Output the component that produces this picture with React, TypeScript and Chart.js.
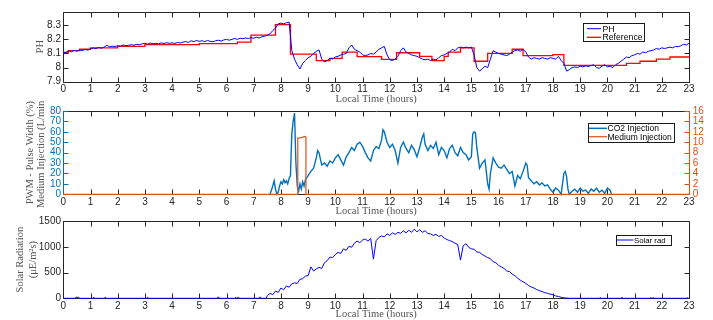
import React, { useEffect, useRef } from "react";
import { Chart, registerables } from "chart.js";

Chart.register(...registerables);

// ---------------- data ----------------
const HOUR_TICKS = [0, 1, 2, 3, 4, 5, 6, 7, 8, 9, 10, 11, 12, 13, 14, 15, 16, 17, 18, 19, 20, 21, 22, 23];

// pH, sampled every 0.1 h from 0 h
const PH_START = 0;
const PH_STEP = 0.1;
const phValues = [
  8.103, 8.108, 8.118, 8.112, 8.122, 8.117, 8.125, 8.12, 8.128, 8.124,
  8.132, 8.138, 8.135, 8.142, 8.138, 8.145, 8.158, 8.148, 8.152, 8.149,
  8.155, 8.152, 8.16, 8.155, 8.158, 8.162, 8.158, 8.165, 8.162, 8.168,
  8.172, 8.166, 8.174, 8.169, 8.172, 8.168, 8.175, 8.171, 8.176, 8.172,
  8.175, 8.171, 8.178, 8.174, 8.18, 8.185, 8.178, 8.19, 8.184, 8.192,
  8.186, 8.19, 8.184, 8.192, 8.186, 8.183, 8.19, 8.194, 8.188, 8.196,
  8.2, 8.194, 8.2, 8.206, 8.2, 8.208, 8.204, 8.21, 8.206, 8.212,
  8.208, 8.215, 8.21, 8.218, 8.222, 8.23, 8.24, 8.262, 8.28, 8.31,
  8.315, 8.31, 8.318, 8.322, 8.12, 8.06, 8.02, 7.99, 8.03, 8.05,
  8.07, 8.08, 8.1, 8.115, 8.125, 8.06, 8.04, 8.05, 8.065, 8.06,
  8.075, 8.08, 8.09, 8.095, 8.1, 8.14, 8.16, 8.13, 8.12, 8.11,
  8.09, 8.085, 8.09, 8.1, 8.095, 8.11, 8.13, 8.14, 8.15, 8.09,
  8.055, 8.05, 8.06, 8.08, 8.12, 8.14, 8.11, 8.1, 8.09, 8.085,
  8.08, 8.07, 8.06, 8.055, 8.06, 8.05, 8.06, 8.055, 8.07, 8.085,
  8.09, 8.1, 8.11, 8.13, 8.12, 8.14, 8.145, 8.14, 8.145, 8.14,
  8.145, 8.09, 8.0, 7.975, 7.99, 8.01, 8.0, 8.06, 8.12, 8.11,
  8.1, 8.095, 8.09, 8.085, 8.095, 8.11, 8.12, 8.125, 8.115, 8.13,
  8.11, 8.075, 8.06, 8.07, 8.065, 8.06, 8.07, 8.065, 8.06, 8.07,
  8.065, 8.06, 8.08, 8.05, 8.03, 7.975, 7.985, 8.0, 8.005, 8.0,
  8.01, 8.005, 8.012, 8.008, 8.015, 8.02, 8.0, 7.995, 8.01, 8.02,
  8.005, 8.01, 8.0, 8.02, 8.03, 8.045, 8.06, 8.075, 8.07, 8.085,
  8.09, 8.1, 8.095, 8.11, 8.105, 8.115, 8.12, 8.125, 8.135, 8.13,
  8.14, 8.135, 8.14, 8.145, 8.14, 8.15, 8.148, 8.155, 8.165, 8.16,
  8.172,
];

// pH reference set-point (step changes)
const refTimes = [0, 0.18, 0.6, 1.0, 2.0, 3.0, 5.0, 6.4, 6.9, 7.8, 8.35, 9.3, 9.8, 10.25, 10.8, 11.7, 12.25, 13.1, 13.55, 14.0, 14.15, 14.6, 15.1, 15.6, 16.5, 16.9, 18.0, 18.4, 20.7, 21.2, 21.8, 22.3, 23];
const refValues = [8.107, 8.12, 8.13, 8.14, 8.15, 8.163, 8.17, 8.18, 8.23, 8.305, 8.095, 8.05, 8.065, 8.11, 8.078, 8.058, 8.105, 8.08, 8.05, 8.08, 8.11, 8.14, 8.045, 8.1, 8.13, 8.085, 8.092, 8.015, 8.03, 8.045, 8.06, 8.075, 8.08];

const PH_TICKS = [7.9, 8.0, 8.1, 8.2, 8.3];
const PH_TICK_LABELS = ["7.9", "8", "8.1", "8.2", "8.3"];

// CO2 injection PWM (%)
const co2Times = [
  7.6, 7.7, 7.75, 7.8, 7.85, 7.9, 7.95, 8.0, 8.05, 8.1,
  8.15, 8.2, 8.25, 8.3, 8.35, 8.4, 8.45, 8.5, 8.55, 8.6,
  8.65, 8.7, 8.75, 8.8, 8.85, 8.9, 9.0, 9.1, 9.2, 9.3,
  9.35, 9.4, 9.5, 9.6, 9.7, 9.8, 9.9, 10.0, 10.1, 10.2,
  10.3, 10.4, 10.5, 10.6, 10.7, 10.8, 10.9, 11.0, 11.1, 11.2,
  11.3, 11.4, 11.5, 11.6, 11.7, 11.75, 11.8, 11.9, 12.0, 12.1,
  12.2, 12.3, 12.4, 12.5, 12.6, 12.7, 12.8, 12.9, 13.0, 13.1,
  13.2, 13.25, 13.3, 13.4, 13.5, 13.6, 13.7, 13.8, 13.9, 14.0,
  14.1, 14.2, 14.3, 14.4, 14.5, 14.6, 14.7, 14.8, 14.9, 15.0,
  15.05, 15.1, 15.15, 15.2, 15.3, 15.4, 15.5, 15.6, 15.65, 15.7,
  15.8, 15.9, 16.0, 16.1, 16.2, 16.3, 16.4, 16.5, 16.6, 16.7,
  16.8, 16.9, 17.0, 17.05, 17.1, 17.2, 17.3, 17.4, 17.5, 17.6,
  17.7, 17.8, 17.9, 18.0, 18.1, 18.2, 18.3, 18.4, 18.45, 18.5,
  18.55, 18.6, 18.7, 18.8, 18.9, 19.0, 19.1, 19.2, 19.3, 19.4,
  19.5, 19.6, 19.7, 19.8, 19.9, 20.0, 20.1, 20.15,
];
const co2Values = [
  0, 8, 13, 5, 0, 2, 8, 12, 10, 14,
  11, 13, 10, 15, 18, 58, 70, 78, 30, 8,
  3, 10, 5, 12, 8, 14, 18, 22, 25, 35,
  42, 40, 28, 30, 27, 32, 30, 35, 38, 33,
  28, 36, 40, 45, 42, 48, 50, 46, 40, 35,
  32, 42, 46, 44, 52, 62, 60, 50, 45, 48,
  42, 30, 45, 50, 44, 40, 47, 43, 36, 45,
  55, 58, 48, 42, 47, 44, 50, 38, 45, 42,
  35, 44, 47, 40, 37, 45, 40, 38, 33, 36,
  58, 60, 59, 45, 25, 30, 33, 10, 5, 20,
  35, 30, 26, 25, 28, 24, 20, 22, 8, 18,
  15, 22, 30, 28, 16, 13, 10, 12, 9, 11,
  8, 9, 5, 2, 6, 4, 0, 20, 22, 17,
  5, 0, 3, 5, 2, 6, 3, 4, 1, 5,
  3, 6, 2, 4, 1, 6, 4, 0,
];

// Medium injection (L/min)
const mediumTimes = [0, 8.62, 8.62, 8.75, 8.88, 8.92, 8.92, 23];
const mediumValues = [0, 0, 10.8, 10.9, 11.1, 11, 0, 0];

const PWM_TICKS = [0, 10, 20, 30, 40, 50, 60, 70, 80];
const MEDIUM_TICKS = [0, 2, 4, 6, 8, 10, 12, 14, 16];

// Solar radiation (uE/m^2 s)
const solarDawnTimes = [0, 0.45, 0.48, 0.52, 0.55, 0.6, 1.08, 1.12, 1.16, 1.5, 1.54, 1.58, 3.05, 3.1, 3.14, 5.65, 5.7, 5.74, 6.3, 6.34, 6.38, 6.44, 6.48, 7.2, 7.24, 7.28, 7.45];
const solarDawnValues = [0, 0, 30, 5, 28, 0, 0, 22, 0, 0, 20, 0, 0, 22, 0, 0, 30, 0, 0, 20, 0, 22, 0, 0, 28, 0, 0];
const SOLAR_DAY_START = 7.5;
const SOLAR_DAY_STEP = 0.1;
const solarDayValues = [
  50, 95, 70, 140, 115, 200, 165, 240, 215, 280,
  300, 290, 370, 380, 430, 440, 610, 530, 570, 600,
  580, 690, 730, 800, 790, 850, 890, 870, 960, 930,
  1010, 990, 1070, 1110, 1080, 1130, 1150, 1110, 1160, 760,
  1120, 1180, 1210, 1190, 1250, 1220, 1270, 1240, 1280, 1260,
  1310, 1270, 1320, 1280, 1340, 1290, 1330, 1280, 1310, 1260,
  1250, 1220, 1240, 1200, 1220, 1170, 1140, 1120, 1100, 1070,
  1040, 740, 1020, 1060, 990, 960, 950, 900, 890, 850,
  820, 790, 770, 710, 690, 640, 610, 580, 530, 520,
  470, 440, 390, 350, 320, 290, 250, 220, 200, 170,
  150, 130, 110, 95, 80, 70, 45, 35, 20, 10,
  5, 0,
];
const solarDuskTimes = [18.7, 19.7, 19.74, 19.78, 20.5, 20.54, 20.58, 21.0, 21.04, 21.08, 21.55, 21.6, 21.64, 21.7, 21.74, 22.9, 22.94, 22.98, 23];
const solarDuskValues = [0, 0, 14, 0, 0, 16, 0, 0, 10, 0, 0, 12, 0, 12, 0, 0, 12, 0, 0];

const SOLAR_TICKS = [0, 500, 1000, 1500];

// ---------------- styling ----------------
const TICK_COLOR = "#262626";
const TITLE_COLOR = "#555555";
const BOX_COLOR = "#262626";
const BLUE_MATLAB = "#0072BD";
const ORANGE_MATLAB = "#D95319";
const SANS = "'Liberation Sans', Arial, Helvetica, sans-serif";
const SERIF = "'Liberation Serif', 'Times New Roman', serif";
const TICK_FONT = { family: SANS, size: 10, lineHeight: 1 };
const titleFont = (lh: number) => ({ family: SERIF, size: 10.5, lineHeight: lh });

const toPoints = (xs: number[], ys: number[]) => xs.map((x, i) => ({ x, y: ys[i] }));
const gridPoints = (start: number, step: number, ys: number[]) =>
  ys.map((y, i) => ({ x: Math.round((start + i * step) * 1000) / 1000, y }));

// MATLAB-style box, inward ticks and boxed legend
function makeMatlabPlugin(cfg: any) {
  const snap = (v: number) => Math.round(v) + 0.5;
  return {
    id: "matlabAxes",
    beforeDatasetsDraw(chart: any) {
      const { ctx, chartArea: a, scales } = chart;
      const tl = 5;
      const L = snap(a.left), R = snap(a.right), T = snap(a.top), B = snap(a.bottom);
      ctx.save();
      ctx.lineWidth = 1;
      ctx.strokeStyle = BOX_COLOR;
      ctx.beginPath();
      ctx.moveTo(L, T); ctx.lineTo(R, T);
      ctx.moveTo(L, B); ctx.lineTo(R, B);
      for (const t of scales.x.ticks) {
        const px = snap(scales.x.getPixelForValue(t.value));
        ctx.moveTo(px, T); ctx.lineTo(px, T + tl);
        ctx.moveTo(px, B); ctx.lineTo(px, B - tl);
      }
      ctx.stroke();
      const side = (scale: any, x: number, dir: number, color: string) => {
        ctx.strokeStyle = color;
        ctx.beginPath();
        ctx.moveTo(x, T); ctx.lineTo(x, B);
        for (const t of scale.ticks) {
          const py = snap(scale.getPixelForValue(t.value));
          ctx.moveTo(x, py); ctx.lineTo(x + dir * tl, py);
        }
        ctx.stroke();
      };
      side(scales.y, L, 1, cfg.leftColor || BOX_COLOR);
      side(scales[cfg.rightScale || "y"], R, -1, cfg.rightColor || BOX_COLOR);
      ctx.restore();
    },
    afterDatasetsDraw(chart: any) {
      const { ctx } = chart;
      const lg = cfg.legend;
      ctx.save();
      ctx.fillStyle = "#ffffff";
      ctx.fillRect(lg.x, lg.y, lg.w, lg.h);
      ctx.lineWidth = 1;
      ctx.strokeStyle = "#1a1a1a";
      ctx.strokeRect(snap(lg.x), snap(lg.y), Math.round(lg.w), Math.round(lg.h));
      ctx.font = `${lg.font}px ${SANS}`;
      ctx.textBaseline = "middle";
      ctx.textAlign = "left";
      chart.data.datasets.forEach((ds: any, i: number) => {
        const y = lg.y + lg.rows[i];
        ctx.strokeStyle = ds.borderColor;
        ctx.lineWidth = ds.borderWidth;
        ctx.beginPath();
        ctx.moveTo(lg.x + lg.s0, y);
        ctx.lineTo(lg.x + lg.s1, y);
        ctx.stroke();
        ctx.fillStyle = "#000000";
        ctx.fillText(ds.label, lg.x + lg.tx, y + 0.5);
      });
      ctx.restore();
    },
  };
}

const xScale = (height: number, titlePadBottom: number) => ({
  type: "linear",
  position: "bottom",
  min: 0,
  max: 23,
  afterBuildTicks: (s: any) => { s.ticks = HOUR_TICKS.map((v) => ({ value: v })); },
  afterFit: (s: any) => { s.height = height; },
  ticks: {
    autoSkip: false, maxRotation: 0, minRotation: 0, padding: 2.5,
    color: TICK_COLOR, font: TICK_FONT,
    callback: (v: any) => String(v),
  },
  grid: { display: false, drawTicks: false },
  border: { display: false },
  title: {
    display: true, text: "Local Time (hours)", color: TITLE_COLOR,
    font: titleFont(1), padding: { top: 0, bottom: titlePadBottom },
  },
});

const baseOptions = (padTop: number, padRight: number) => ({
  responsive: false,
  animation: false,
  devicePixelRatio: 1,
  events: [],
  layout: { padding: { left: 0, right: padRight, top: padTop, bottom: 0 } },
  elements: { point: { radius: 0 }, line: { tension: 0 } },
  plugins: { legend: { display: false }, tooltip: { enabled: false }, title: { display: false } },
});

function buildPh() {
  return {
    type: "line",
    data: {
      datasets: [
        { label: "PH", data: gridPoints(PH_START, PH_STEP, phValues), borderColor: "#0000FF", borderWidth: 1, clip: false },
        { label: "Reference", data: toPoints(refTimes, refValues), borderColor: "#FF0000", borderWidth: 1.3, stepped: true, clip: false },
      ],
    },
    options: {
      ...baseOptions(11.7, 24),
      scales: {
        x: xScale(24.3, 1.25),
        y: {
          type: "linear", position: "left", min: 7.9, max: 8.396,
          afterBuildTicks: (s: any) => { s.ticks = PH_TICKS.map((v) => ({ value: v })); },
          afterFit: (s: any) => { s.width = 63.3; },
          ticks: { autoSkip: false, padding: 2.3, color: TICK_COLOR, font: TICK_FONT, callback: (_v: any, i: number) => PH_TICK_LABELS[i] },
          grid: { display: false, drawTicks: false },
          border: { display: false },
          title: { display: true, text: "PH", color: TITLE_COLOR, font: titleFont(1), padding: { top: 34.75, bottom: 0 } },
        },
      },
    },
    plugins: [makeMatlabPlugin({
      legend: { x: 583.3, y: 23.3, w: 61, h: 18, rows: [5.4, 14], s0: 3.7, s1: 17.7, tx: 19.2, font: 8.7 },
    })],
  };
}

function buildCo2() {
  return {
    type: "line",
    data: {
      datasets: [
        { label: "CO2 Injection", data: toPoints(co2Times, co2Values), borderColor: BLUE_MATLAB, borderWidth: 1.4, yAxisID: "y", order: 1, clip: false },
        { label: "Medium Injection", data: toPoints(mediumTimes, mediumValues), borderColor: ORANGE_MATLAB, borderWidth: 1.2, yAxisID: "y1", order: 0, clip: false },
      ],
    },
    options: {
      ...baseOptions(11, 0),
      scales: {
        x: xScale(22.7, 0.75),
        y: {
          type: "linear", position: "left", min: 0, max: 80,
          afterBuildTicks: (s: any) => { s.ticks = PWM_TICKS.map((v) => ({ value: v })); },
          afterFit: (s: any) => { s.width = 63.3; },
          ticks: { autoSkip: false, padding: 2.3, color: BLUE_MATLAB, font: TICK_FONT, callback: (v: any) => String(v) },
          grid: { display: false, drawTicks: false },
          border: { display: false },
          title: {
            display: true, text: ["PWM - Pulse Width (%)", "Medium Injection (L/min)"], color: TITLE_COLOR,
            font: titleFont(11 / 10.5), padding: { top: 25, bottom: 0 },
          },
        },
        y1: {
          type: "linear", position: "right", min: 0, max: 16,
          afterBuildTicks: (s: any) => { s.ticks = MEDIUM_TICKS.map((v) => ({ value: v })); },
          afterFit: (s: any) => { s.width = 24; },
          ticks: { autoSkip: false, padding: 3.7, color: ORANGE_MATLAB, font: TICK_FONT, callback: (v: any) => String(v) },
          grid: { display: false, drawTicks: false },
          border: { display: false },
        },
      },
    },
    plugins: [makeMatlabPlugin({
      leftColor: BLUE_MATLAB, rightColor: ORANGE_MATLAB, rightScale: "y1",
      legend: { x: 587.7, y: 23.3, w: 86.3, h: 19, rows: [5, 13.4], s0: 1.3, s1: 19.3, tx: 19.8, font: 8.5 },
    })],
  };
}

function buildSolar() {
  const solarData = [
    ...toPoints(solarDawnTimes, solarDawnValues),
    ...gridPoints(SOLAR_DAY_START, SOLAR_DAY_STEP, solarDayValues),
    ...toPoints(solarDuskTimes, solarDuskValues),
  ];
  return {
    type: "line",
    data: {
      datasets: [
        { label: "Solar rad", data: solarData, borderColor: "#0000FF", borderWidth: 1, clip: false },
      ],
    },
    options: {
      ...baseOptions(11, 24),
      scales: {
        x: xScale(21.7, 0.25),
        y: {
          type: "linear", position: "left", min: 0, max: 1500,
          afterBuildTicks: (s: any) => { s.ticks = SOLAR_TICKS.map((v) => ({ value: v })); },
          afterFit: (s: any) => { s.width = 63.3; },
          ticks: { autoSkip: false, padding: 2.3, color: TICK_COLOR, font: TICK_FONT, callback: (v: any) => String(v) },
          grid: { display: false, drawTicks: false },
          border: { display: false },
          title: {
            display: true, text: ["Solar Radiation", "(\u03BCE/m\u00B2s)"], color: TITLE_COLOR,
            font: titleFont(13 / 10.5), padding: { top: 13.5, bottom: 0 },
          },
        },
      },
    },
    plugins: [makeMatlabPlugin({
      legend: { x: 615.7, y: 25, w: 55.3, h: 10, rows: [5], s0: 1, s1: 17.6, tx: 18.3, font: 7.8 },
    })],
  };
}

function ChartPanel({ top, height, build }: { top: number; height: number; build: () => any }) {
  const ref = useRef<HTMLCanvasElement | null>(null);
  useEffect(() => {
    if (!ref.current) return;
    const chart = new Chart(ref.current, build());
    return () => chart.destroy();
  }, [build]);
  return (
    <canvas
      ref={ref}
      width={713}
      height={height}
      style={{ position: "absolute", left: 0, top, width: 713, height, display: "block" }}
    />
  );
}

export default function App() {
  return (
    <div style={{ position: "fixed", left: 0, top: 0, width: 713, height: 320, background: "#ffffff", overflow: "hidden" }}>
      <ChartPanel top={0} height={106} build={buildPh} />
      <ChartPanel top={100} height={117} build={buildCo2} />
      <ChartPanel top={210} height={110} build={buildSolar} />
    </div>
  );
}
